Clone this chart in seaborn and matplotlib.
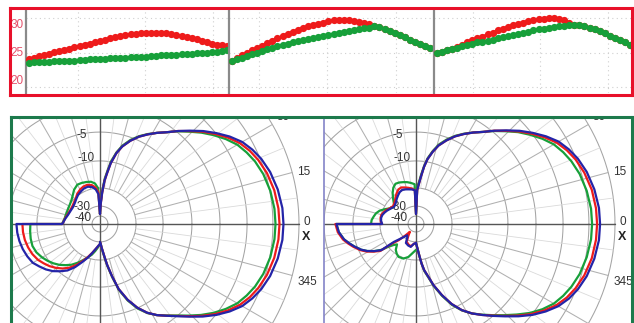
import numpy as np
import matplotlib
matplotlib.use("Agg")
import matplotlib.pyplot as plt
import seaborn as sns

sns.set_style("white")
plt.rcParams["font.family"] = ["Liberation Sans", "DejaVu Sans"]

W, H = 634, 323

# ---- top strip: gain over three bands ----
band1_red = [23.7, 23.9, 24.2, 24.4, 24.6, 24.9, 25.1, 25.3, 25.5, 25.8,
             26.0, 26.2, 26.4, 26.6, 26.8, 27.0, 27.3, 27.5, 27.7, 27.9,
             28.0, 28.1, 28.2, 28.3, 28.3, 28.3, 28.2, 28.2, 28.0, 27.9,
             27.7, 27.6, 27.4, 27.2, 26.9, 26.6, 26.4, 26.2, 26.1, 26.0]
band1_green = [23.0, 23.1, 23.1, 23.2, 23.2, 23.3, 23.3, 23.4, 23.4, 23.4,
               23.5, 23.5, 23.6, 23.6, 23.7, 23.7, 23.8, 23.8, 23.9, 23.9,
               24.0, 24.0, 24.1, 24.1, 24.2, 24.2, 24.3, 24.3, 24.4, 24.4,
               24.5, 24.6, 24.6, 24.7, 24.8, 24.8, 24.9, 25.0, 25.1, 25.2]
band2_red = [23.4, 23.8, 24.3, 24.7, 25.2, 25.6, 26.0, 26.5, 26.9, 27.3,
             27.7, 28.1, 28.4, 28.8, 29.1, 29.4, 29.7, 29.9, 30.1, 30.3,
             30.5, 30.6, 30.6, 30.5, 30.4, 30.2, 30.0, 29.8, 29.5, 29.3,
             29.0, 28.6, 28.2, 27.9, 27.5, 27.1, 26.7, 26.3, 26.0, 25.7]
band2_green = [23.3, 23.6, 23.9, 24.2, 24.5, 24.8, 25.1, 25.4, 25.7, 25.9,
               26.2, 26.4, 26.6, 26.8, 27.0, 27.2, 27.4, 27.6, 27.8, 27.9,
               28.1, 28.3, 28.5, 28.6, 28.8, 28.9, 29.1, 29.2, 29.4, 29.3,
               29.0, 28.6, 28.2, 27.9, 27.5, 27.1, 26.7, 26.3, 26.0, 25.7]
band3_red = [24.8, 25.0, 25.3, 25.5, 25.8, 26.2, 26.6, 27.0, 27.3, 27.6,
             28.0, 28.3, 28.7, 29.0, 29.3, 29.6, 29.9, 30.1, 30.3, 30.5,
             30.7, 30.8, 30.9, 30.9, 30.8, 30.5, 30.1, 29.7, 29.6, 29.4,
             29.2, 28.9, 28.6, 28.2, 27.8, 27.4, 27.0, 26.6, 26.2]
band3_green = [24.8, 25.0, 25.3, 25.5, 25.7, 25.9, 26.2, 26.4, 26.6, 26.7,
               26.9, 27.1, 27.3, 27.5, 27.7, 27.9, 28.1, 28.3, 28.5, 28.7,
               28.9, 29.0, 29.2, 29.3, 29.4, 29.5, 29.6, 29.7, 29.6, 29.4,
               29.2, 28.9, 28.6, 28.2, 27.8, 27.4, 27.0, 26.6, 26.2]
gain_ticks = [20, 25, 30]

# ---- polar patterns: angle (deg) and normalised radius ----
main_deg = [-90, -88, -86, -84, -82, -80, -77, -74, -70, -66, -62, -58,
            -54, -50, -46, -42, -38, -34, -30, -26, -22, -17, -11, -5,
            0,
            5, 11, 17, 22, 26, 30, 34, 38, 42, 46, 50, 54,
            58, 62, 66, 70, 74, 77, 80, 82, 84, 86, 88, 90]

left_blue_main = [0.09, 0.10, 0.12, 0.14, 0.17, 0.21, 0.27, 0.34, 0.405, 0.46, 0.505, 0.54,
                  0.57, 0.605, 0.647, 0.695, 0.742, 0.786, 0.825, 0.852, 0.874, 0.894, 0.91, 0.92,
                  0.922,
                  0.92, 0.91, 0.894, 0.874, 0.852, 0.825, 0.786, 0.742, 0.698, 0.652, 0.61, 0.57,
                  0.54, 0.51, 0.48, 0.445, 0.405, 0.365, 0.31, 0.26, 0.22, 0.16, 0.10, 0.05]
left_red_main = [0.09, 0.10, 0.12, 0.14, 0.17, 0.21, 0.27, 0.34, 0.405, 0.46, 0.505, 0.54,
                 0.57, 0.603, 0.644, 0.69, 0.735, 0.776, 0.812, 0.838, 0.858, 0.877, 0.892, 0.90,
                 0.902,
                 0.90, 0.892, 0.877, 0.858, 0.838, 0.812, 0.776, 0.735, 0.693, 0.649, 0.61, 0.57,
                 0.54, 0.51, 0.48, 0.445, 0.405, 0.365, 0.31, 0.26, 0.22, 0.16, 0.10, 0.05]
left_green_main = [0.09, 0.10, 0.12, 0.145, 0.175, 0.215, 0.275, 0.345, 0.41, 0.465, 0.507, 0.54,
                   0.568, 0.60, 0.64, 0.683, 0.725, 0.763, 0.797, 0.82, 0.84, 0.858, 0.872, 0.88,
                   0.882,
                   0.88, 0.872, 0.858, 0.84, 0.82, 0.797, 0.763, 0.725, 0.686, 0.645, 0.608, 0.57,
                   0.54, 0.512, 0.483, 0.45, 0.41, 0.37, 0.32, 0.27, 0.23, 0.17, 0.11, 0.05]

left_back_deg = [93, 97, 102, 108, 114, 120, 127, 133, 140, 148, 156, 164, 171, 178, 180,
                 180, 186, 192, 198, 204, 210, 215, 220, 225, 230, 235, 240, 245, 250, 255,
                 260, 265, 270]
left_blue_back = [0.15, 0.175, 0.19, 0.197, 0.196, 0.19, 0.183, 0.174, 0.165, 0.16, 0.162, 0.167,
                  0.176, 0.186, 0.19,
                  0.42, 0.418, 0.414, 0.408, 0.40, 0.39, 0.372, 0.355, 0.335, 0.31, 0.285, 0.25,
                  0.211, 0.18, 0.151, 0.128, 0.112, 0.10]
left_red_back = [0.16, 0.185, 0.20, 0.207, 0.206, 0.20, 0.19, 0.178, 0.17, 0.165, 0.165, 0.17,
                 0.178, 0.186, 0.19,
                 0.39, 0.389, 0.386, 0.38, 0.372, 0.36, 0.345, 0.33, 0.312, 0.292, 0.268, 0.238,
                 0.205, 0.176, 0.15, 0.128, 0.112, 0.10]
left_green_back = [0.18, 0.205, 0.217, 0.222, 0.226, 0.228, 0.216, 0.20, 0.187, 0.18, 0.177, 0.177,
                   0.18, 0.188, 0.19,
                   0.35, 0.353, 0.356, 0.357, 0.35, 0.336, 0.322, 0.307, 0.29, 0.27, 0.25, 0.225,
                   0.20, 0.178, 0.16, 0.138, 0.118, 0.10]

right_blue_main = [0.095, 0.11, 0.13, 0.16, 0.20, 0.235, 0.27, 0.32, 0.38, 0.44, 0.49, 0.53,
                   0.565, 0.603, 0.645, 0.693, 0.742, 0.786, 0.826, 0.855, 0.877, 0.897, 0.913, 0.923,
                   0.925,
                   0.923, 0.913, 0.897, 0.877, 0.855, 0.828, 0.788, 0.744, 0.70, 0.654, 0.612, 0.572,
                   0.542, 0.512, 0.482, 0.447, 0.41, 0.372, 0.33, 0.29, 0.24, 0.20, 0.17, 0.05]
right_red_main = [0.095, 0.11, 0.13, 0.16, 0.20, 0.235, 0.27, 0.32, 0.38, 0.44, 0.49, 0.53,
                  0.565, 0.601, 0.642, 0.688, 0.735, 0.777, 0.815, 0.843, 0.864, 0.884, 0.90, 0.908,
                  0.91,
                  0.908, 0.90, 0.884, 0.865, 0.844, 0.817, 0.779, 0.737, 0.695, 0.651, 0.612, 0.572,
                  0.542, 0.512, 0.482, 0.447, 0.41, 0.372, 0.33, 0.29, 0.24, 0.20, 0.17, 0.05]
right_green_main = [0.095, 0.11, 0.13, 0.16, 0.20, 0.24, 0.275, 0.325, 0.385, 0.445, 0.492, 0.53,
                    0.563, 0.598, 0.637, 0.68, 0.726, 0.766, 0.80, 0.823, 0.842, 0.86, 0.874, 0.883,
                    0.885,
                    0.883, 0.874, 0.86, 0.842, 0.823, 0.80, 0.766, 0.728, 0.69, 0.648, 0.61, 0.572,
                    0.542, 0.514, 0.485, 0.452, 0.415, 0.377, 0.335, 0.295, 0.25, 0.21, 0.19, 0.05]

right_back_deg = [92, 97, 102, 107, 112, 117, 122, 127, 132, 137, 142, 148, 155, 160, 165,
                  170, 175, 180,
                  180, 186, 192, 196, 200, 205, 209, 213, 217, 219, 223, 227, 232, 237, 242,
                  250, 257, 264, 270]
right_blue_back = [0.17, 0.175, 0.178, 0.182, 0.185, 0.18, 0.17, 0.16, 0.15, 0.143, 0.14, 0.148,
                   0.16, 0.168, 0.175, 0.178, 0.176, 0.17,
                   0.40, 0.39, 0.37, 0.35, 0.33, 0.305, 0.28, 0.25, 0.219, 0.143, 0.11, 0.089,
                   0.072, 0.08, 0.108, 0.115, 0.118, 0.10, 0.095]
right_red_back = [0.17, 0.18, 0.186, 0.192, 0.198, 0.195, 0.183, 0.17, 0.158, 0.15, 0.146, 0.152,
                  0.165, 0.173, 0.18, 0.181, 0.178, 0.172,
                  0.405, 0.395, 0.375, 0.355, 0.335, 0.31, 0.285, 0.255, 0.225, 0.16, 0.12, 0.08,
                  0.05, 0.07, 0.10, 0.11, 0.115, 0.10, 0.095]
right_green_back = [0.20, 0.208, 0.215, 0.22, 0.225, 0.227, 0.215, 0.195, 0.172, 0.152, 0.14, 0.15,
                    0.175, 0.195, 0.208, 0.216, 0.224, 0.226,
                    0.40, 0.39, 0.37, 0.35, 0.33, 0.305, 0.28, 0.25, 0.215, 0.185, 0.155, 0.14,
                    0.165, 0.178, 0.187, 0.185, 0.17, 0.145, 0.13]

ring_r = [0.04, 0.09, 0.181, 0.317, 0.462, 0.603, 0.739, 0.869, 1.0]
angle_labels = [30, 15, 0, 345]

RED = "#ee1b1b"
GREEN = "#17a03a"
BLUE = "#2424a8"
TICK_RED = "#e5506a"


def rect(x0, y0, x1, y1):
    return [x0 / W, 1 - y1 / H, (x1 - x0) / W, (y1 - y0) / H]


fig = plt.figure(figsize=(W / 100, H / 100), dpi=100)

# ---------------- top strip ----------------
frame = fig.add_axes(rect(10, 8, 632, 95))
frame.set_xticks([])
frame.set_yticks([])
for s in frame.spines.values():
    s.set_color("#e8102a")
    s.set_linewidth(2.2)
frame.set_zorder(5)
frame.patch.set_alpha(0)

bands = [(band1_red, band1_green, 26, 229, [9.7, 22.8, 36.2]),
         (band2_red, band2_green, 229, 434, [5.4, 18.7, 32.3]),
         (band3_red, band3_green, 434, 632, [7.1, 20.3, 33.7])]
for k, (red, green, x0, x1, vgrid) in enumerate(bands):
    ax = fig.add_axes(rect(x0, 10, x1, 93))
    idx = np.arange(len(red))
    sns.lineplot(x=idx, y=red, color=RED, lw=2.0, marker="o", markersize=5.2,
                 markeredgewidth=0, ax=ax, zorder=3)
    sns.lineplot(x=idx, y=green, color=GREEN, lw=2.0, marker="o", markersize=5.2,
                 markeredgewidth=0, ax=ax, zorder=4)
    ax.set_xlim(-0.5, (x1 - x0 - 2.5) / 5.1)
    ax.set_ylim(17.7, 32.3)
    for v in vgrid:
        ax.axvline(v, color="#cfcfcf", lw=0.8, ls=(0, (1, 3)), zorder=1)
    for h in [18.7, 24.7, 30.9]:
        ax.axhline(h, color="#cfcfcf", lw=0.8, ls=(0, (1, 3)), zorder=1)
    ax.set_xticks([])
    ax.set_xlabel("")
    ax.set_ylabel("")
    if k == 0:
        ax.set_yticks(gain_ticks)
        ax.set_yticklabels([str(t) for t in gain_ticks], color=TICK_RED, fontsize=8.5)
        ax.tick_params(axis="y", length=0, pad=2)
    else:
        ax.set_yticks([])
    for side in ["top", "right", "bottom"]:
        ax.spines[side].set_visible(False)
    ax.spines["left"].set_color("#8a8a8a")
    ax.spines["left"].set_linewidth(1.6)

# ---------------- bottom: two polar patterns ----------------
frame2 = fig.add_axes(rect(11, 117, 632, 345))
frame2.set_xticks([])
frame2.set_yticks([])
for s in frame2.spines.values():
    s.set_color("#1d7a4c")
    s.set_linewidth(2.2)
frame2.set_zorder(5)
frame2.patch.set_alpha(0)

R = 199.0
CY = 224


def polar_panel(ax, cx, x0, x1, curves):
    t = np.linspace(0, 2 * np.pi, 721)
    for r in ring_r:
        ax.plot(r * np.cos(t), r * np.sin(t), color="#a4a4a4", lw=0.75, zorder=1)
    for a in np.arange(0, 360, 7.5):
        th = np.deg2rad(a)
        major = a % 15 == 0
        ax.plot([0.181 * np.cos(th), np.cos(th)], [0.181 * np.sin(th), np.sin(th)],
                color="#b0b0b0" if major else "#dadada", lw=0.75 if major else 0.6,
                zorder=1)
    ax.plot([-1, 1], [0, 0], color="#555555", lw=1.0, zorder=1.2)
    ax.plot([0, 0], [-1, 1], color="#555555", lw=1.0, zorder=1.2)

    lab = dict(fontsize=8.5, color="#333333", zorder=1.5)
    ax.text(-0.065, 0.447, "-5", ha="right", va="center", **lab)
    ax.text(-0.025, 0.332, "-10", ha="right", va="center", **lab)
    ax.text(-0.05, 0.085, "-30", ha="right", va="center", **lab)
    ax.text(-0.04, 0.03, "-40", ha="right", va="center", **lab)
    for a in angle_labels:
        th = np.deg2rad(a)
        va = "bottom" if a == 30 else ("center" if a in (0, 15) else "top")
        dy = 0.01 if a == 0 else 0.0
        ax.text(1.015 * np.cos(th) + 0.01, 1.015 * np.sin(th) + dy, str(a),
                ha="left", va=va, clip_on=True, **lab)
    ax.text(1.015, -0.065, "X", ha="left", va="center", fontsize=9,
            fontweight="bold", color="#222222", zorder=1.5)

    for deg, r, color, z in curves:
        th = np.deg2rad(deg)
        r = np.asarray(r)
        sns.lineplot(x=r * np.cos(th), y=r * np.sin(th), sort=False, estimator=None,
                     color=color, lw=1.6, ax=ax, zorder=z)

    ax.set_xlim((x0 - cx) / R, (x1 - cx) / R)
    ax.set_ylim((CY - 323) / R, (CY - 118) / R)
    ax.set_xticks([])
    ax.set_yticks([])
    ax.set_xlabel("")
    ax.set_ylabel("")


axL = fig.add_axes(rect(12, 118, 322, 323))
polar_panel(axL, 100, 12, 322, [
    (main_deg + left_back_deg, left_green_main + left_green_back, GREEN, 2.0),
    (main_deg + left_back_deg, left_red_main + left_red_back, RED, 2.1),
    (main_deg + left_back_deg, left_blue_main + left_blue_back, BLUE, 2.2),
])
for s in axL.spines.values():
    s.set_visible(False)

axR = fig.add_axes(rect(324, 118, 632, 323))
polar_panel(axR, 416, 324, 632, [
    (main_deg + right_back_deg, right_green_main + right_green_back, GREEN, 2.0),
    (main_deg + right_back_deg, right_red_main + right_red_back, RED, 2.1),
    (main_deg + right_back_deg, right_blue_main + right_blue_back, BLUE, 2.2),
])
for side, s in axR.spines.items():
    s.set_visible(side == "left")
axR.spines["left"].set_color("#8484c8")
axR.spines["left"].set_linewidth(1.2)

fig.savefig("out.png", dpi=100)
